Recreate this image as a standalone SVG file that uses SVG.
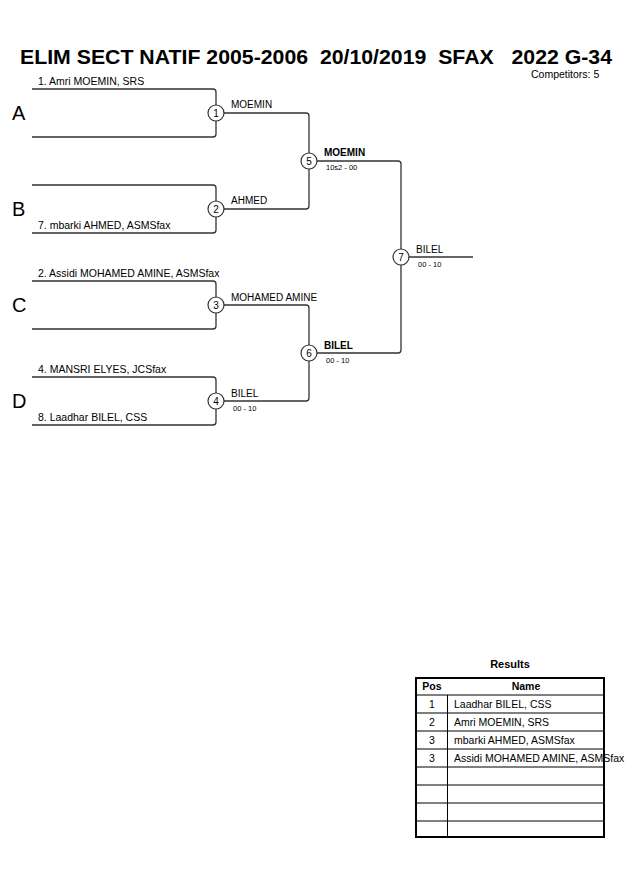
<svg xmlns="http://www.w3.org/2000/svg" width="630" height="891" viewBox="0 0 630 891">
<style>
text{font-family:"Liberation Sans",Arial,sans-serif;fill:#000}
.t{font-size:21px;font-weight:bold;white-space:pre}
.s{font-size:10px}
.e{font-size:10.5px}
.sm{font-size:7.5px}
.b{font-weight:bold}
.big{font-size:20px}
.ln{fill:none;stroke:#333;stroke-width:1.3}
.c{fill:#fff;stroke:#333;stroke-width:1.2}
.n{font-size:10px;text-anchor:middle}
.tb{fill:none;stroke:#000;stroke-width:1}
.tbo{fill:none;stroke:#000;stroke-width:2}
</style>
<text class="t" x="20" y="64" xml:space="preserve" textLength="592" lengthAdjust="spacingAndGlyphs">ELIM SECT NATIF 2005-2006  20/10/2019  SFAX   2022 G-34</text>
<text class="e" x="531" y="78">Competitors: 5</text>

<g id="connectors">
<path class="ln" d="M32 89 H213 Q216 89 216 92 V134 Q216 137 213 137 H32"/>
<path class="ln" d="M32 185 H213 Q216 185 216 188 V230 Q216 233 213 233 H32"/>
<path class="ln" d="M32 281 H213 Q216 281 216 284 V326 Q216 329 213 329 H32"/>
<path class="ln" d="M32 377 H213 Q216 377 216 380 V422 Q216 425 213 425 H32"/>
<path class="ln" d="M216 113 H306 Q309 113 309 116 V206 Q309 209 306 209 H216"/>
<path class="ln" d="M216 305 H306 Q309 305 309 308 V398 Q309 401 306 401 H216"/>
<path class="ln" d="M309 161 H398 Q401 161 401 164 V350 Q401 353 398 353 H309"/>
<path class="ln" d="M401 257 H473"/>
</g>

<g id="pool-labels">
<text class="big" x="12" y="120">A</text>
<text class="big" x="12" y="216">B</text>
<text class="big" x="12" y="312">C</text>
<text class="big" x="12" y="408">D</text>
</g>

<g id="entrants">
<text class="e" x="38" y="85">1. Amri MOEMIN, SRS</text>
<text class="e" x="38" y="229">7. mbarki AHMED, ASMSfax</text>
<text class="e" x="38" y="277">2. Assidi MOHAMED AMINE, ASMSfax</text>
<text class="e" x="38" y="373">4. MANSRI ELYES, JCSfax</text>
<text class="e" x="38" y="421">8. Laadhar BILEL, CSS</text>
</g>

<g id="match1"><circle class="c" cx="216" cy="113" r="8"/><text class="n" x="216" y="117">1</text>
<text class="s" x="231" y="108">MOEMIN</text></g>
<g id="match2"><circle class="c" cx="216" cy="209" r="8"/><text class="n" x="216" y="213">2</text>
<text class="s" x="231" y="204">AHMED</text></g>
<g id="match3"><circle class="c" cx="216" cy="305" r="8"/><text class="n" x="216" y="309">3</text>
<text class="s" x="231" y="301">MOHAMED AMINE</text></g>
<g id="match4"><circle class="c" cx="216" cy="401" r="8"/><text class="n" x="216" y="405">4</text>
<text class="s" x="231" y="397">BILEL</text><text class="sm" x="233" y="411">00 - 10</text></g>
<g id="match5"><circle class="c" cx="309" cy="161" r="8"/><text class="n" x="309" y="165">5</text>
<text class="s b" x="324" y="156">MOEMIN</text><text class="sm" x="326" y="170">10s2 - 00</text></g>
<g id="match6"><circle class="c" cx="309" cy="353" r="8"/><text class="n" x="309" y="357">6</text>
<text class="s b" x="324" y="349">BILEL</text><text class="sm" x="326" y="363">00 - 10</text></g>
<g id="match7"><circle class="c" cx="401" cy="257" r="8"/><text class="n" x="401" y="261">7</text>
<text class="s" x="416" y="253">BILEL</text><text class="sm" x="418" y="267">00 - 10</text></g>

<g id="results">
<text class="b" x="510" y="668" text-anchor="middle" style="font-size:11px">Results</text>
<path class="tb" d="M416 695 H604 M416 713 H604 M416 731 H604 M416 749 H604 M416 767 H604 M416 785 H604 M416 803 H604 M416 821 H604 M447.5 695 V837"/>
<rect class="tbo" x="416" y="678" width="188" height="159"/>
<text class="e b" x="432" y="690" text-anchor="middle">Pos</text>
<text class="e b" x="526" y="690" text-anchor="middle">Name</text>
<text class="e" x="432" y="708" text-anchor="middle">1</text>
<text class="e" x="454" y="708">Laadhar BILEL, CSS</text>
<text class="e" x="432" y="726" text-anchor="middle">2</text>
<text class="e" x="454" y="726">Amri MOEMIN, SRS</text>
<text class="e" x="432" y="744" text-anchor="middle">3</text>
<text class="e" x="454" y="744">mbarki AHMED, ASMSfax</text>
<text class="e" x="432" y="762" text-anchor="middle">3</text>
<text class="e" x="454" y="762">Assidi MOHAMED AMINE, ASMSfax</text>
</g>
</svg>
